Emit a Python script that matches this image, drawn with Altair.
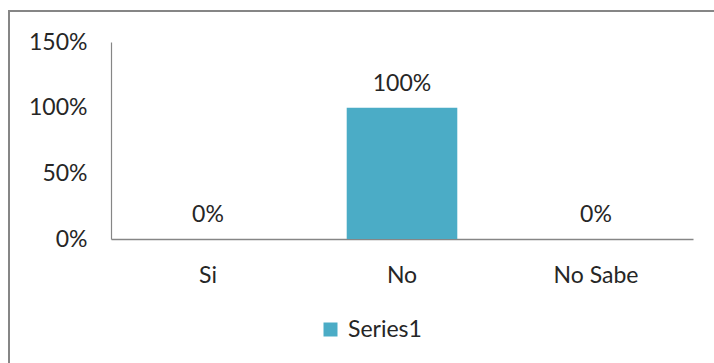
import altair as alt
import pandas as pd

categories = ["Si", "No", "No Sabe"]
values = [0.0, 1.0, 0.0]
series_name = "Series1"
y_ticks = [0, 0.5, 1.0, 1.5]

df = pd.DataFrame({"cat": categories, "val": values, "series": [series_name] * 3})

FONT = "Lato"
FS = 23
TXT = "#262626"
GRAY = "#868686"
BAR = "#4BACC6"

x = alt.X("cat:N", sort=categories, title=None,
          scale=alt.Scale(paddingInner=0.43, paddingOuter=0.215),
          axis=alt.Axis(labelAngle=0, ticks=False, domainColor=GRAY, domainWidth=1.5,
                        labelPadding=25, labelFontSize=FS, labelFont=FONT, labelColor=TXT))
y = alt.Y("val:Q", title=None,
          scale=alt.Scale(domain=[0, 1.5], nice=False),
          axis=alt.Axis(values=y_ticks, format=".0%", grid=False, ticks=False,
                        domainColor=GRAY, domainWidth=1.2, labelPadding=24,
                        labelFontSize=FS, labelFont=FONT, labelColor=TXT))

bars = alt.Chart(df).mark_bar(color=BAR).encode(
    x=x, y=y,
    color=alt.Color("series:N", scale=alt.Scale(range=[BAR]),
                    legend=alt.Legend(title=None, orient="none", legendX=208, legendY=276,
                                      symbolType="square", symbolSize=196, labelOffset=6,
                                      labelFontSize=FS, labelFont=FONT, labelColor=TXT,
                                      symbolStrokeWidth=0)),
)

labels = alt.Chart(df).mark_text(baseline="alphabetic", dy=-17, fontSize=FS, font=FONT, color=TXT).encode(
    x=alt.X("cat:N", sort=categories),
    y=alt.Y("val:Q"),
    text=alt.Text("val:Q", format=".0%"),
)

frame = alt.Chart(alt.Data(values=[{"a": 1}])).mark_rect(
    fill=None, stroke=GRAY, strokeWidth=2
).encode(x=alt.value(-102), x2=alt.value(900), y=alt.value(-31), y2=alt.value(500))

chart = alt.layer(frame, bars, labels).properties(
    width=582, height=197,
    autosize=alt.AutoSizeParams(type="none"),
    padding={"left": 111, "top": 42, "right": 21, "bottom": 124},
).configure(background="white").configure_view(stroke=None)

chart.save("out.html", embed_options={"renderer": "svg", "actions": False})
